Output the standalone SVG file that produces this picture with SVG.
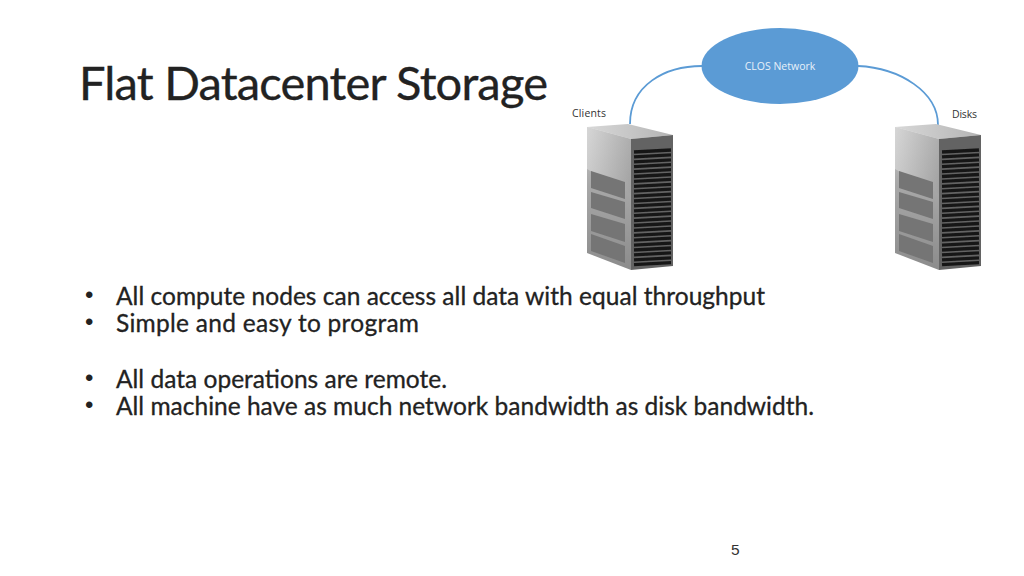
<svg xmlns="http://www.w3.org/2000/svg" width="1024" height="576" viewBox="0 0 1024 576">
<style>
.t{font-family:"Lato","Open Sans",sans-serif;fill:#222}
.h{font-size:47px;stroke:#222;stroke-width:.35}
.b{font-size:24.500px;stroke:#222;stroke-width:.3}
.d{font-family:"Liberation Sans",sans-serif;font-size:24px;fill:#222}
.s{font-family:"Open Sans","Noto Sans",sans-serif;font-size:10.500px;fill:#333}
.c{fill:none;stroke:#5b9bd5;stroke-width:1.800}
.sl{stroke:#181818;stroke-width:3.300;fill:none}
.p{fill:#757575}
</style>
<defs>
<filter id="soft" x="-5%" y="-5%" width="110%" height="110%"><feGaussianBlur stdDeviation=".45"/></filter>
<linearGradient id="side" x1="0" y1="0" x2="0" y2="1"><stop offset="0" stop-color="#c8c8c8"/><stop offset=".4" stop-color="#a8a8a8"/><stop offset="1" stop-color="#8c8c8c"/></linearGradient>
<linearGradient id="sideh" x1="0" y1="0" x2="1" y2="0"><stop offset="0" stop-color="#e0e0e0"/><stop offset="1" stop-color="#a0a0a0"/></linearGradient>
<linearGradient id="top" x1="0" y1="0" x2="1" y2="0"><stop offset="0" stop-color="#d8d8d8"/><stop offset="1" stop-color="#b4b4b4"/></linearGradient>
<g id="server" filter="url(#soft)">
<polygon points="0,3 41,0 86,11 44,15" fill="url(#top)"/>
<polygon points="0,3 44,15 44,146 0,129" fill="url(#side)"/>
<polygon points="0,3 44,15 44,70 0,45" fill="url(#sideh)" opacity=".6"/>
<polygon points="44,15 86,11 86,142 44,146" fill="#646464"/>
<polygon class="p" points="4,47 38,58 38,75 4,64"/>
<polygon class="p" points="4,68 38,78 38,95 4,84"/>
<polygon class="p" points="4,90 38,100 38,118 4,107"/>
<polygon class="p" points="4,110 38,122 38,139 4,127"/>
<path class="sl" d="M47,28 84,26M47,32.900 84,30.900M47,37.800 84,35.800M47,42.700 84,40.700M47,47.600 84,45.600M47,52.500 84,50.500M47,57.400 84,55.400M47,62.300 84,60.300M47,67.200 84,65.200M47,72.100 84,70.100M47,77 84,75M47,81.900 84,79.900M47,86.800 84,84.800M47,91.700 84,89.700M47,96.600 84,94.600M47,101.500 84,99.500M47,106.400 84,104.400M47,111.300 84,109.300M47,116.200 84,114.200M47,121.100 84,119.100M47,126 84,124M47,130.900 84,128.900M47,135.800 84,133.800M47,140.700 84,138.700"/>
</g>
</defs>
<rect width="1024" height="576" fill="#fff"/>
<text class="t h" x="79" y="100" textLength="469" lengthAdjust="spacing">Flat Datacenter Storage</text>
<g id="connectors">
<path class="c" d="M702,66C665,66 630,85 630,124"/>
<path class="c" d="M858,66C900,68 938,92 938,125"/>
</g>
<g id="clos"><ellipse cx="780" cy="66" rx="78.500" ry="38" fill="#5b9bd5"/><text x="780" y="69.500" text-anchor="middle" font-family="Open Sans,sans-serif" font-size="10.500" fill="#e8f1fa">CLOS Network</text></g>
<g id="clients"><text class="s" x="572" y="116.500" textLength="34">Clients</text><use href="#server" x="587" y="124"/></g>
<g id="disks"><text class="s" x="952" y="117.500" textLength="25">Disks</text><use href="#server" x="895" y="124"/></g>
<g id="body">
<text class="d" x="85" y="303">•</text><text class="t b" x="116" y="305" textLength="649">All compute nodes can access all data with equal throughput</text>
<text class="d" x="85" y="330">•</text><text class="t b" x="116" y="332" textLength="303">Simple and easy to program</text>
<text class="d" x="85" y="386">•</text><text class="t b" x="116" y="388" textLength="331">All data operations are remote.</text>
<text class="d" x="85" y="413">•</text><text class="t b" x="116" y="415" textLength="698">All machine have as much network bandwidth as disk bandwidth.</text>
</g>
<text x="731" y="554.500" font-family="Liberation Sans,sans-serif" font-size="15.500" fill="#333">5</text>
</svg>
